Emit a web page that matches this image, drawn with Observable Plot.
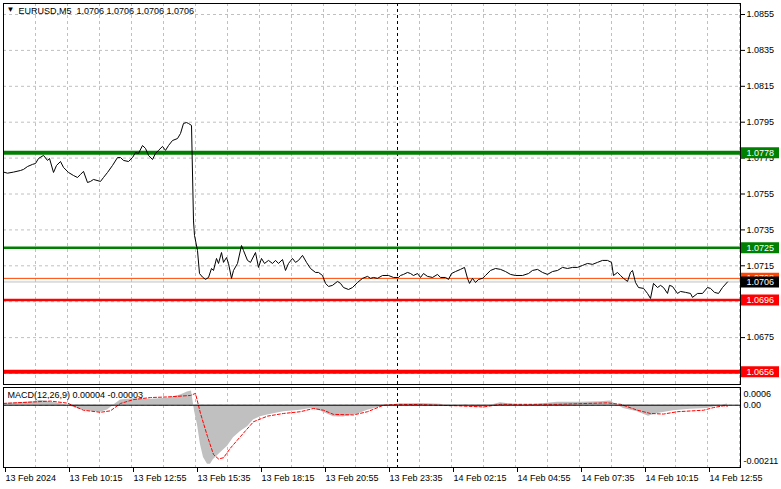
<!DOCTYPE html>
<html>
<head>
<meta charset="utf-8">
<script src="https://cdn.jsdelivr.net/npm/d3@7"></script>
<script src="https://cdn.jsdelivr.net/npm/@observablehq/plot@0.6"></script>
<style>
html, body { margin: 0; padding: 0; background: #fff; }
#chart { position: relative; width: 781px; height: 489px; overflow: hidden; background: #fff; }
#chart svg { position: absolute; left: 0; }
</style>
</head>
<body>
<div id="chart"></div>
<script>
// ---------- DATA ----------
const symbolName = "EURUSD,M5";
const ohlcValues = [1.0706, 1.0706, 1.0706, 1.0706];

// [bar index (M5 bars since 13 Feb 07:35), close]
const closeSeries = [
  [0,1.07672],[2,1.07666],[5,1.07672],[8.5,1.07681],[10,1.07687],[12,1.07703],[14.5,1.07715],[16,1.07720],
  [17.5,1.07748],[20,1.07765],[22,1.07737],[23,1.07748],[25,1.07670],[26.5,1.07709],[28.5,1.07731],[30,1.07698],
  [32.5,1.07670],[35,1.07653],[37,1.07642],[38.5,1.07659],[40,1.07676],[42,1.07614],[43.5,1.07620],[45,1.07631],
  [48.5,1.07620],[50,1.07642],[52,1.07670],[54.5,1.07709],[57,1.07753],[58.5,1.07753],[60,1.07737],[62.5,1.07731],
  [64.5,1.07753],[66,1.07781],[67.5,1.07776],[69.5,1.07820],[71,1.07804],[72.5,1.07765],[74.5,1.07742],[76,1.07776],
  [77.5,1.07793],[79.5,1.07815],[81,1.07793],[82.5,1.07820],[84.5,1.07848],[87,1.07859],[88.5,1.07887],[90,1.07943],
  [91.5,1.07948],[92.5,1.07943],[94,1.07932],[95,1.07400],[95.5,1.07319],[97,1.07235],[98,1.07107],[99.5,1.07087],
  [101,1.07074],[102.5,1.07085],[104,1.07135],[105,1.07124],[106.5,1.07191],[107.5,1.07163],[109,1.07224],[110,1.07169],
  [111.5,1.07196],[112.5,1.07163],[114,1.07080],[115,1.07124],[117,1.07163],[119,1.07263],[120,1.07235],[122,1.07180],
  [123.5,1.07169],[126,1.07224],[127.5,1.07141],[129,1.07191],[130.5,1.07163],[132.5,1.07180],[134.5,1.07163],[136,1.07180],
  [137.5,1.07163],[139.5,1.07185],[141,1.07124],[142.5,1.07163],[144.5,1.07191],[146,1.07169],[147.5,1.07180],[149.5,1.07208],
  [151.5,1.07169],[153.5,1.07135],[156,1.07113],[157.5,1.07113],[159.5,1.07096],[161,1.07052],[162.5,1.07035],[164.5,1.07041],
  [167,1.07063],[168.5,1.07052],[170,1.07029],[172.5,1.07018],[174.5,1.07029],[177,1.07057],[179.5,1.07080],[182,1.07091],
  [183.5,1.07080],[185,1.07085],[187,1.07080],[189.5,1.07096],[192.5,1.07096],[195,1.07085],[197.5,1.07085],[198.5,1.07096],
  [200,1.07102],[202,1.07113],[203.5,1.07107],[205,1.07096],[207,1.07107],[208.5,1.07085],[210,1.07107],[212,1.07091],
  [214.5,1.07085],[217,1.07102],[218.5,1.07085],[221,1.07085],[222.5,1.07074],[224,1.07107],[226,1.07118],[228.5,1.07130],
  [230.5,1.07141],[232,1.07080],[233,1.07052],[234.5,1.07080],[236,1.07057],[237.5,1.07074],[239.5,1.07080],[241,1.07096],
  [243.5,1.07124],[246,1.07135],[248.5,1.07130],[251,1.07118],[253.5,1.07102],[256,1.07096],[259.5,1.07096],[262.5,1.07107],
  [264.5,1.07124],[267,1.07130],[269.5,1.07113],[272,1.07102],[274.5,1.07118],[277,1.07124],[279.5,1.07141],[282,1.07135],
  [284.5,1.07141],[287,1.07141],[289.5,1.07152],[292,1.07163],[294.5,1.07158],[297,1.07169],[299.5,1.07180],[302,1.07180],
  [304,1.07169],[305,1.07096],[307,1.07113],[308.5,1.07096],[310,1.07080],[312,1.07063],[313.5,1.07113],[314.5,1.07124],
  [316,1.07057],[317.5,1.07029],[320,1.07024],[322,1.06996],[323.5,1.06968],[325,1.07052],[327,1.07029],[328.5,1.07041],
  [330,1.07029],[332,1.06996],[333,1.07041],[334.5,1.07035],[337,1.06996],[338.5,1.07007],[341,1.07002],[343.5,1.06996],
  [344.5,1.06974],[347,1.06996],[349.5,1.06996],[352,1.07029],[353.5,1.07024],[355.5,1.07002],[357.5,1.06996],[359.5,1.07029],
  [362,1.07060]
];

const priceTicks = [1.0655, 1.0675, 1.0695, 1.0715, 1.0735, 1.0755, 1.0775, 1.0795, 1.0815, 1.0835, 1.0855];
const priceTickLabels = ["", "1.0675", "", "1.0715", "1.0735", "1.0755", "1.0775", "1.0795", "1.0815", "1.0835", "1.0855"];
const resistanceLevels = [1.0778, 1.0725];
const supportLevels = [1.0696, 1.0656];
const bidPrice = 1.0706;
const askPrice = 1.0708;

const timeTickBars = [0, 32, 64, 96, 128, 160, 192, 224, 256, 288, 320, 352];
const timeTickLabels = ["13 Feb 2024", "13 Feb 10:15", "13 Feb 12:55", "13 Feb 15:35", "13 Feb 18:15", "13 Feb 20:55",
  "13 Feb 23:35", "14 Feb 02:15", "14 Feb 04:55", "14 Feb 07:35", "14 Feb 10:15", "14 Feb 12:55"];
const gridBars = [16, 32, 48, 64, 80, 96, 112, 128, 144, 160, 176, 192, 208, 224, 240, 256, 272, 288, 304, 320, 336, 352, 368];
const daySeparatorBar = 197;

const macdTitle = "MACD(12,26,9) 0.00004 -0.00003";
// [bar, MACD histogram]
const macdHistogram = [
  [0,0.00006],[7,0.00008],[15,0.00012],[18.5,0.00017],[23.5,0.00011],[28.5,0.00005],[32,0],[37,-0.00012],
  [42.5,-0.0002],[48.5,-0.00024],[52,-0.00016],[55,0],[58.5,0.00018],[65,0.00022],[73.5,0.0002],[82,0.00024],
  [88.5,0.00035],[92,0.00045],[94,0.00048],[95.5,-0.0002],[97,-0.00067],[98.5,-0.00134],[100,-0.00177],[102,-0.002],
  [103.5,-0.002],[105,-0.00184],[108.5,-0.00161],[112,-0.00139],[115,-0.0011],[118.5,-0.00089],[122,-0.00073],[125,-0.0005],
  [128.5,-0.00039],[132,-0.00033],[140,-0.00022],[148.5,-0.00017],[153.5,-0.00011],[158.5,-0.0002],[165,-0.00039],[170,-0.0004],
  [177,-0.00031],[182,-0.00017],[188.5,-0.00006],[192.5,0],[198.5,0.00004],[208.5,0.00006],[218.5,0.00003],[223.5,-0.00006],
  [231,0.00002],[237,-0.00008],[243.5,0],[248.5,0.00008],[260,0],[268.5,0.00004],[277,0.0001],[288.5,0.0001],
  [298.5,0.00012],[303.5,0.00014],[307,0],[310,-0.00011],[317,-0.00022],[322.5,-0.00037],[327,-0.00028],[335,-0.00019],
  [343.5,-0.00014],[352,-0.00011],[357,-0.00003],[362,0.00004]
];
// [bar, MACD signal]
const macdSignal = [
  [0,0.00006],[15,0.00011],[23.5,0.00014],[32,0.00007],[40,-0.00017],[48.5,-0.00024],[53.5,-0.00019],[58.5,0.00006],
  [65,0.00019],[73.5,0.00026],[82,0.00028],[93.5,0.00033],[96,0.0004],[98.5,-0.00028],[102,-0.00106],[105,-0.00167],
  [107.5,-0.00182],[110,-0.00178],[113.5,-0.00145],[118.5,-0.00106],[125,-0.00056],[132,-0.00037],[140,-0.00028],[148.5,-0.00022],
  [155,-0.00011],[160,-0.00017],[165,-0.00031],[175,-0.00033],[182,-0.00022],[190,0],[197,0.00003],[208.5,0.00002],
  [227,-0.00002],[240,-0.00006],[248.5,0.00003],[277,0.00003],[302,0.00008],[308.5,0.00003],[317,-0.00017],[323.5,-0.00028],
  [330,-0.0003],[337,-0.00022],[350,-0.00017],[355,-0.00008],[360,-0.00002],[362,-0.00003]
];
const macdMax = 0.0006;
const macdMin = -0.00211;

// ---------- CHART ----------
const xDomain = [0, 368.5];
const FONT = "'Liberation Sans', Arial, sans-serif";
const GRID = "#c0c0c0";
const baseStyle = {fontFamily: FONT, fontSize: "9px", color: "black", background: "white", overflow: "visible"};
const fmt4 = d => d.toFixed(4);
const boxX1 = xDomain[1] + 0.5, boxX2 = xDomain[1] + 19.5;

function priceBox(p, color) {
  return [
    Plot.ruleY([p], {x1: boxX1, x2: boxX2, stroke: color, strokeWidth: 11}),
    Plot.text([p], {x: xDomain[1], y: d => d, dx: 6, textAnchor: "start", fill: "white", text: fmt4})
  ];
}

const levelStyles = [
  {p: resistanceLevels[0], color: "#008000", w: 4},
  {p: resistanceLevels[1], color: "#008000", w: 2.5},
  {p: supportLevels[0], color: "#ff0000", w: 2.5},
  {p: supportLevels[1], color: "#ff0000", w: 4}
];

const main = Plot.plot({
  width: 781, height: 385,
  marginTop: 3, marginBottom: 1, marginLeft: 3, marginRight: 41,
  x: {domain: xDomain, axis: null},
  y: {domain: [1.064887, 1.086113], axis: null},
  style: baseStyle,
  marks: [
    Plot.ruleY(priceTicks, {stroke: GRID, strokeDasharray: "3,3"}),
    Plot.ruleX(gridBars, {stroke: GRID, strokeDasharray: "3,3"}),
    Plot.ruleX([daySeparatorBar], {stroke: "black", strokeDasharray: "3,3"}),
    Plot.ruleY([askPrice], {stroke: "#ff4500"}),
    Plot.ruleY([bidPrice], {stroke: GRID}),
    ...levelStyles.map(s => Plot.ruleY([s.p], {stroke: s.color, strokeWidth: s.w})),
    Plot.line(closeSeries, {x: d => d[0], y: d => d[1], stroke: "black", strokeWidth: 1}),
    Plot.frame({stroke: "black"}),
    Plot.axisY(priceTicks, {anchor: "right", tickSize: 4, tickPadding: 2,
      tickFormat: d => priceTickLabels[priceTicks.indexOf(d)]}),
    ...priceBox(askPrice, "#ff4500"),
    ...priceBox(bidPrice, "black"),
    ...levelStyles.flatMap(s => priceBox(s.p, s.color)),
    Plot.text(["\u25BC"], {frameAnchor: "top-left", dx: 3, dy: 3, lineAnchor: "top", fontSize: 8}),
    Plot.text([symbolName + "  " + ohlcValues.map(fmt4).join(" ")],
      {frameAnchor: "top-left", dx: 15, dy: 4, lineAnchor: "top", textAnchor: "start"})
  ]
});
main.style.top = "0px";

const macd = Plot.plot({
  width: 781, height: 104,
  marginTop: 2, marginBottom: 22, marginLeft: 3, marginRight: 41,
  x: {domain: xDomain, axis: null},
  y: {domain: [macdMin, macdMax], axis: null},
  style: baseStyle,
  marks: [
    Plot.ruleX(gridBars, {stroke: GRID, strokeDasharray: "3,3"}),
    Plot.ruleY([0], {stroke: GRID, strokeDasharray: "3,3"}),
    Plot.areaY(macdHistogram, {x: d => d[0], y: d => d[1], fill: "#c0c0c0"}),
    Plot.line(macdSignal, {x: d => d[0], y: d => d[1], stroke: "red", strokeWidth: 1, strokeDasharray: "3,2"}),
    Plot.ruleX([daySeparatorBar], {stroke: "black", strokeDasharray: "3,3"}),
    Plot.frame({stroke: "black"}),
    Plot.axisX(timeTickBars, {anchor: "bottom", tickSize: 5, tickPadding: 2, textAnchor: "start", dx: 2,
      tickFormat: d => timeTickLabels[timeTickBars.indexOf(d)]}),
    Plot.tickY([0], {x1: xDomain[1], x2: xDomain[1] + 1.5, stroke: "black"}),
    Plot.text([macdMax], {y: d => d, frameAnchor: "right", dx: 3, dy: 7, textAnchor: "start", text: d => d.toFixed(4)}),
    Plot.text([0], {y: d => d, frameAnchor: "right", dx: 3, textAnchor: "start", text: d => d.toFixed(2)}),
    Plot.text([macdMin], {y: d => d, frameAnchor: "right", dx: 3, dy: -6, textAnchor: "start", text: d => d.toFixed(5)}),
    Plot.text([macdTitle], {frameAnchor: "top-left", dx: 4, dy: 4, lineAnchor: "top", textAnchor: "start"})
  ]
});
macd.style.top = "385px";

const root = document.getElementById("chart");
root.appendChild(main);
root.appendChild(macd);
</script>
</body>
</html>
